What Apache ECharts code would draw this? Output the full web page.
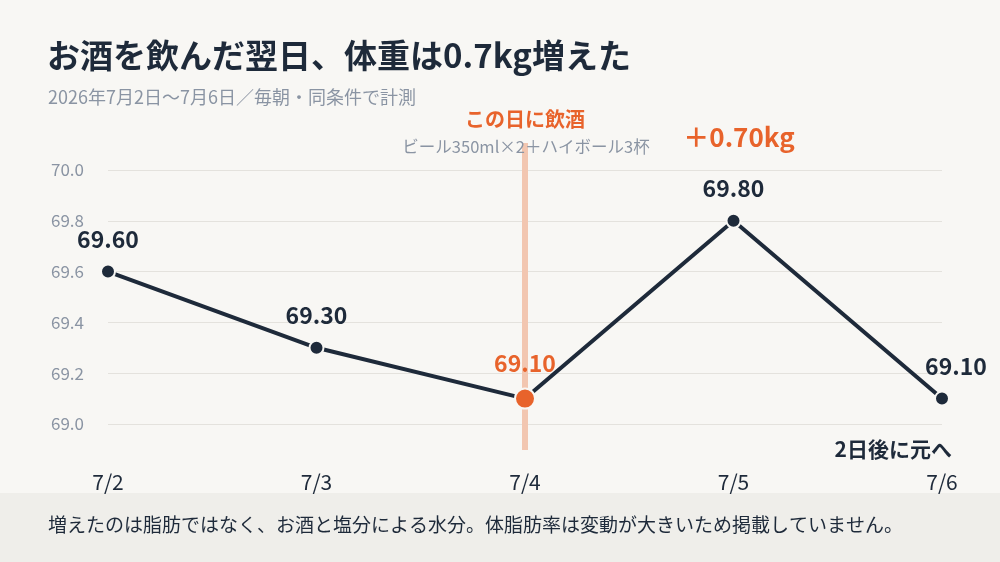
<!DOCTYPE html>
<html>
<head>
<meta charset="utf-8">
<script src="https://cdn.jsdelivr.net/npm/echarts@6/dist/echarts.min.js"></script>
<style>
  html, body { margin: 0; padding: 0; background: #f8f7f4; }
  #main { width: 1000px; height: 562px; }
</style>
</head>
<body>
<div id="main"></div>
<script>
const days = ['7/2', '7/3', '7/4', '7/5', '7/6'];
const weights = [69.6, 69.3, 69.1, 69.8, 69.1];
const drinkDay = '7/4';
const yTicks = { min: 69.0, max: 70.0, step: 0.2 };

const FONT = '"Noto Sans CJK JP", "Noto Sans", sans-serif';
const DARK = '#1e2a3a';
const ORANGE = '#e8632b';
const GREY = '#8a94a3';
const BG = '#f8f7f4';

// main series data: the drinking day gets an orange, bigger point
const seriesData = weights.map(function (w, i) {
    const item = { value: w };
    if (days[i] === drinkDay) {
        item.symbolSize = 20;
        item.itemStyle = { color: ORANGE };
        item.label = { color: ORANGE };
    }
    if (i === weights.length - 1) {
        item.label = { offset: [14, 0] };
    }
    return item;
});

const options = {
    backgroundColor: BG,
    textStyle: { fontFamily: FONT },
    title: [
        {
            text: 'お酒を飲んだ翌日、体重は0.7kg増えた',
            left: 42, top: 34,
            textStyle: { fontSize: 33, fontWeight: 'bold', color: DARK, fontFamily: FONT }
        },
        {
            text: '2026年7月2日〜7月6日／毎朝・同条件で計測',
            left: 43, top: 83,
            textStyle: { fontSize: 18, fontWeight: 'normal', color: GREY, fontFamily: FONT }
        },
        {
            text: 'この日に飲酒',
            left: 520, top: 104, textAlign: 'center',
            textStyle: { fontSize: 20, fontWeight: 'bold', color: ORANGE, fontFamily: FONT }
        },
        {
            text: 'ビール350ml×2＋ハイボール3杯',
            left: 521, top: 133, textAlign: 'center',
            textStyle: { fontSize: 16.5, fontWeight: 'normal', color: GREY, fontFamily: FONT }
        },
        {
            text: '＋0.70kg',
            left: 734, top: 119, textAlign: 'center',
            textStyle: { fontSize: 26, fontWeight: 'bold', color: ORANGE, fontFamily: FONT }
        },
        {
            text: '2日後に元へ',
            left: 947, top: 434, textAlign: 'right',
            textStyle: { fontSize: 21, fontWeight: 'bold', color: DARK, fontFamily: FONT }
        },
        {
            text: '増えたのは脂肪ではなく、お酒と塩分による水分。体脂肪率は変動が大きいため掲載していません。',
            left: 43, top: 510,
            textStyle: { fontSize: 19, fontWeight: 'normal', color: DARK, fontFamily: FONT }
        }
    ],
    graphic: [
        {
            type: 'rect', z: -10,
            shape: { x: 0, y: 493, width: 1000, height: 69 },
            style: { fill: '#efeeea' }
        }
    ],
    grid: [
        { left: 108, right: 58, top: 170, bottom: 138 },
        { left: 108, right: 58, top: 143, bottom: 112 }
    ],
    xAxis: [
        {
            type: 'category', data: days, boundaryGap: false, gridIndex: 0,
            axisLine: { show: false }, axisTick: { show: false },
            axisLabel: { color: DARK, fontSize: 21, margin: 48, fontFamily: FONT }
        },
        {
            type: 'category', data: days, boundaryGap: false, gridIndex: 1, show: false
        }
    ],
    yAxis: [
        {
            type: 'value', gridIndex: 0,
            min: yTicks.min, max: yTicks.max, interval: yTicks.step,
            axisLine: { show: false }, axisTick: { show: false },
            axisLabel: {
                color: GREY, fontSize: 17, margin: 24, fontFamily: FONT,
                formatter: function (v) { return v.toFixed(1); }
            },
            splitLine: { lineStyle: { color: '#e4e2dd', width: 1 } }
        },
        { type: 'value', gridIndex: 1, show: false }
    ],
    series: [
        {
            // vertical marker for the drinking day
            type: 'line', xAxisIndex: 1, yAxisIndex: 1, z: 1,
            data: weights, silent: true, showSymbol: false,
            lineStyle: { opacity: 0 },
            markLine: {
                silent: true, symbol: 'none', label: { show: false },
                lineStyle: { color: '#f2c6b0', width: 6, type: 'solid' },
                data: [{ xAxis: drinkDay }]
            }
        },
        {
            type: 'line', z: 5,
            data: seriesData,
            symbol: 'circle', symbolSize: 14,
            lineStyle: { color: DARK, width: 4 },
            itemStyle: { color: DARK, borderColor: BG, borderWidth: 2 },
            label: {
                show: true, position: 'top', distance: 13,
                color: DARK, fontSize: 23, fontWeight: 'bold', fontFamily: FONT,
                formatter: function (p) { return p.value.toFixed(2); }
            }
        }
    ]
};

const myChart = echarts.init(document.getElementById('main'));
myChart.setOption(options);
</script>
</body>
</html>
